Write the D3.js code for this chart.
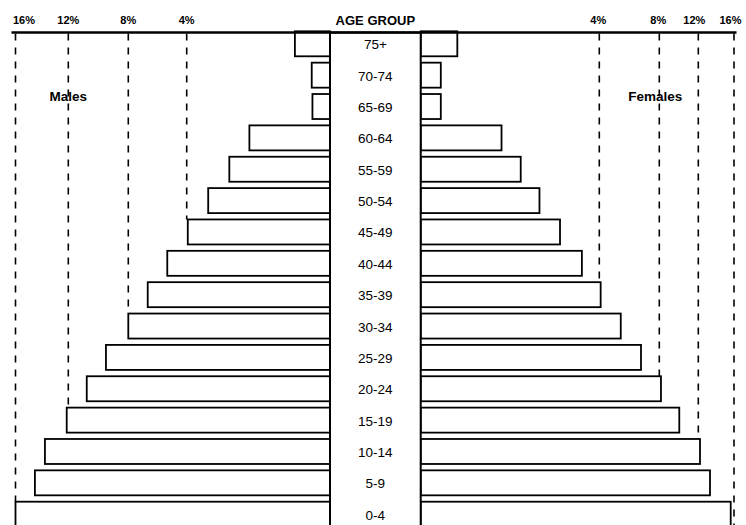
<!DOCTYPE html>
<html>
<head>
<meta charset="utf-8">
<script src="https://cdn.jsdelivr.net/npm/d3@7"></script>
<style>
  html, body { margin: 0; padding: 0; background: #fff; }
  svg { display: block; }
  text { font-family: "Liberation Sans", Arial, Helvetica, sans-serif; fill: #000; }
</style>
</head>
<body>
<div id="chart"></div>
<script>
// ---- data ----
const ageGroups = ["75+","70-74","65-69","60-64","55-59","50-54","45-49","40-44",
                   "35-39","30-34","25-29","20-24","15-19","10-14","5-9","0-4"];
const males   = [0.98,0.51,0.49,2.25,2.81,3.40,3.97,5.33,6.67,8.00,9.49,10.77,12.12,13.77,14.53,16.00];
const females = [0.82,0.45,0.45,1.81,2.24,2.66,3.12,3.61,4.09,5.43,6.78,8.17,10.05,12.19,13.31,15.63];
const tickValues = [4, 8, 12, 16];
const tickLabels = ["4%", "8%", "12%", "16%"];
const headerLabel = "AGE GROUP";
const sideLabels = ["Males", "Females"];

// ---- layout ----
const W = 746, H = 525;
const axisY = 32.5;
const panelL = 330, panelR = 420.7;

const svg = d3.select("#chart").append("svg")
  .attr("width", W).attr("height", H);

// the printed chart's percentage axes are not evenly spaced; piecewise-linear scales follow them
const xLeft = d3.scaleLinear()
  .domain([0, ...tickValues])
  .range([panelL, 186.7, 128.3, 68.3, 15.5]);
const xRight = d3.scaleLinear()
  .domain([0, ...tickValues])
  .range([panelR, 599.3, 659.3, 698.3, 734]);

const step = 31.36, barH = 25;
const y = d3.scaleBand()
  .domain(ageGroups)
  .range([31.3, 31.3 + step * ageGroups.length - (step - barH)])
  .paddingInner((step - barH) / step)
  .paddingOuter(0);

const rows = ageGroups.map((g, i) => ({ g, m: males[i], f: females[i] }));

// ---- dashed gridlines (stop at the first bar that reaches them) ----
function gridEnd(key, v) {
  const hit = rows.find(r => r[key] >= v - 0.1);
  return hit ? y(hit.g) : H;
}
const grid = svg.append("g")
  .attr("stroke", "#000").attr("stroke-width", 1.6)
  .attr("stroke-dasharray", "7,7").attr("fill", "none");
grid.selectAll("line.gl").data(tickValues).join("line")
  .attr("class", "gl")
  .attr("x1", d => xLeft(d)).attr("x2", d => xLeft(d))
  .attr("y1", axisY + 1).attr("y2", d => gridEnd("m", d));
grid.selectAll("line.gr").data(tickValues).join("line")
  .attr("class", "gr")
  .attr("x1", d => xRight(d)).attr("x2", d => xRight(d))
  .attr("y1", axisY + 1).attr("y2", d => gridEnd("f", d));

// ---- bars ----
const bars = svg.append("g")
  .attr("fill", "#fff").attr("stroke", "#000").attr("stroke-width", 1.8);
bars.selectAll("rect.m").data(rows).join("rect")
  .attr("class", "m")
  .attr("x", d => xLeft(d.m)).attr("width", d => panelL - xLeft(d.m))
  .attr("y", d => y(d.g)).attr("height", y.bandwidth());
bars.selectAll("rect.f").data(rows).join("rect")
  .attr("class", "f")
  .attr("x", panelR).attr("width", d => xRight(d.f) - panelR)
  .attr("y", d => y(d.g)).attr("height", y.bandwidth());

// ---- central panel ----
svg.append("rect")
  .attr("x", panelL).attr("y", axisY)
  .attr("width", panelR - panelL).attr("height", H - axisY + 5)
  .attr("fill", "#fff").attr("stroke", "#000").attr("stroke-width", 2);

svg.append("g").selectAll("text").data(ageGroups).join("text")
  .attr("x", (panelL + panelR) / 2)
  .attr("y", d => y(d) + y.bandwidth() / 2 + 1)
  .attr("text-anchor", "middle")
  .attr("dominant-baseline", "central")
  .attr("font-size", "13.5px")
  .text(d => d);

// ---- top axis line ----
svg.append("line")
  .attr("x1", 11.5).attr("x2", 736.5)
  .attr("y1", axisY).attr("y2", axisY)
  .attr("stroke", "#000").attr("stroke-width", 2.4);

// ---- tick labels ----
const tl = svg.append("g").attr("font-size", "11px").attr("font-weight", "bold");
tl.selectAll("text.l").data(tickValues).join("text")
  .attr("class", "l")
  .attr("x", (d, i) => i === tickValues.length - 1 ? xLeft(d) - 2.5 : xLeft(d))
  .attr("y", 24)
  .attr("text-anchor", (d, i) => i === tickValues.length - 1 ? "start" : "middle")
  .text((d, i) => tickLabels[i]);
tl.selectAll("text.r").data(tickValues).join("text")
  .attr("class", "r")
  .attr("x", (d, i) => i === tickValues.length - 1 ? xRight(d) + 7.5
                     : i === tickValues.length - 2 ? xRight(d) - 4 : xRight(d) - 1)
  .attr("y", 24)
  .attr("text-anchor", (d, i) => i === tickValues.length - 1 ? "end" : "middle")
  .text((d, i) => tickLabels[i]);

svg.append("text")
  .attr("x", (panelL + panelR) / 2).attr("y", 24.5)
  .attr("text-anchor", "middle")
  .attr("font-size", "13px").attr("font-weight", "bold")
  .text(headerLabel);

// ---- side labels ----
svg.append("text")
  .attr("x", xLeft(12)).attr("y", 100.5)
  .attr("text-anchor", "middle")
  .attr("font-size", "13.5px").attr("font-weight", "bold")
  .text(sideLabels[0]);
svg.append("text")
  .attr("x", xRight(8) - 4).attr("y", 100.5)
  .attr("text-anchor", "middle")
  .attr("font-size", "13.5px").attr("font-weight", "bold")
  .text(sideLabels[1]);
</script>
</body>
</html>
